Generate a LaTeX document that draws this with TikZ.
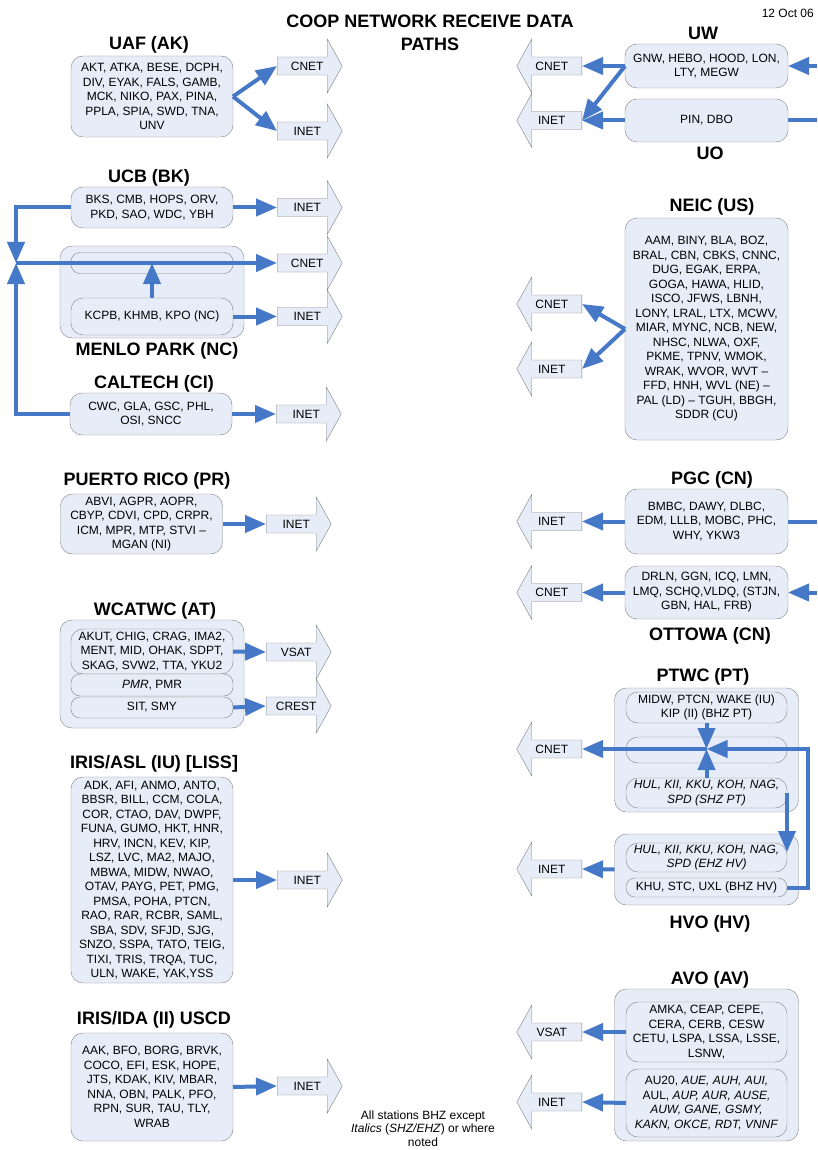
\documentclass[tikz,border=0pt]{standalone}
\usepackage{fontspec}
\setmainfont{Liberation Sans}
\usetikzlibrary{shapes.arrows,arrows.meta}
\definecolor{boxfill}{RGB}{231,237,248}
\definecolor{boxline}{RGB}{128,128,128}
\definecolor{linkblue}{RGB}{70,120,200}

\begin{document}
\begin{tikzpicture}[x=1pt,y=-1pt]
\tikzstyle{station}=[draw=boxline,fill=boxfill,rounded corners=12pt,inner sep=0pt,outer sep=0pt,minimum width=162pt,align=center,font=\fontsize{12}{14.5}\selectfont]
\tikzstyle{inner}=[station,rounded corners=9pt]
\tikzstyle{group}=[draw=boxline,fill=boxfill,rounded corners=12pt,inner sep=0pt,outer sep=0pt,minimum width=184pt]
\tikzstyle{title}=[font=\fontsize{18}{21}\selectfont\bfseries,text height=12.9pt,text depth=0pt,inner sep=0pt]
\tikzstyle{toright}=[single arrow,draw=boxline,fill=boxfill,minimum height=65pt,single arrow head extend=18pt,single arrow tip angle=122,inner xsep=2pt,inner ysep=4.5pt,text height=8.6pt,text depth=0pt,font=\fontsize{12}{14}\selectfont,anchor=tail]
\tikzstyle{toleft}=[toright,shape border rotate=180]
\tikzstyle{link}=[draw=linkblue,line width=4pt,-{Triangle[length=21pt,width=17pt]}]
\tikzstyle{wire}=[draw=linkblue,line width=4pt]

\useasboundingbox (0,0) rectangle (817,1150);

\node (head) [align=center,font=\fontsize{18}{23}\selectfont\bfseries,inner sep=0pt] at (430,32.5) {COOP NETWORK RECEIVE DATA\\PATHS};
\node (date) [anchor=base east,font=\fontsize{12}{14}\selectfont,inner sep=0pt] at (814,17.3) {12 Oct 06};
\node (note) [align=center,font=\fontsize{12}{13.5}\selectfont,inner sep=0pt] at (423,1128.5) {All stations BHZ except\\\textit{Italics} (\textit{SHZ/EHZ}) or where\\noted};

\node (tUAF) [title] at (149,43) {UAF (AK)};
\node (UAF) [station,minimum height=81pt] at (152,96.5) {AKT, ATKA, BESE, DCPH,\\DIV, EYAK, FALS, GAMB,\\MCK, NIKO, PAX, PINA,\\PPLA, SPIA, SWD, TNA,\\UNV};
\node (UAFcnet) [toright] at (277,66) {CNET};
\node (UAFinet) [toright] at (277,131) {INET};

\node (tUCB) [title] at (149,176) {UCB (BK)};
\node (UCB) [station,minimum height=41pt] at (152,207.5) {BKS, CMB, HOPS, ORV,\\PKD, SAO, WDC, YBH};
\node (UCBinet) [toright] at (277,207.5) {INET};

\node (MP) [group,minimum height=92pt] at (152,292) {};
\node (MPtop) [inner,minimum height=21pt] at (152,263) {};
\node (MPbot) [station,minimum height=37pt] at (152,316.5) {KCPB, KHMB, KPO (NC)};
\node (MPcnet) [toright] at (277,263) {CNET};
\node (MPinet) [toright] at (277,316.5) {INET};
\node (tMP) [title] at (157,349) {MENLO PARK (NC)};

\node (tCI) [title] at (154,382) {CALTECH (CI)};
\node (CI) [station,minimum height=42pt] at (151,414) {CWC, GLA, GSC, PHL,\\OSI, SNCC};
\node (CIinet) [toright] at (276,414) {INET};
\coordinate (J) at (16,263);

\node (tPR) [title] at (147,479) {PUERTO RICO (PR)};
\node (PR) [station,minimum height=60pt] at (141.5,524) {ABVI, AGPR, AOPR,\\CBYP, CDVI, CPD, CRPR,\\ICM, MPR, MTP, STVI –\\MGAN (NI)};
\node (PRinet) [toright] at (266,524) {INET};

\node (tAT) [title] at (155,609) {WCATWC (AT)};
\node (AT) [group,minimum height=108pt] at (152,674) {};
\node (ATa) [station,minimum height=45pt] at (152,651.5) {AKUT, CHIG, CRAG, IMA2,\\MENT, MID, OHAK, SDPT,\\SKAG, SVW2, TTA, YKU2};
\node (ATb) [inner,minimum height=22pt] at (152,685) {\textit{PMR}, PMR};
\node (ATc) [inner,minimum height=21pt] at (152,707.5) {SIT, SMY};
\node (ATvsat) [toright] at (266,652) {VSAT};
\node (ATcrest) [toright] at (266,706) {CREST};

\node (tASL) [title] at (154,762) {IRIS/ASL (IU) [LISS]};
\node (ASL) [station,minimum height=206pt] at (152,880) {ADK, AFI, ANMO, ANTO,\\BBSR, BILL, CCM, COLA,\\COR, CTAO, DAV, DWPF,\\FUNA, GUMO, HKT, HNR,\\HRV, INCN, KEV, KIP,\\LSZ, LVC, MA2, MAJO,\\MBWA, MIDW, NWAO,\\OTAV, PAYG, PET, PMG,\\PMSA, POHA, PTCN,\\RAO, RAR, RCBR, SAML,\\SBA, SDV, SFJD, SJG,\\SNZO, SSPA, TATO, TEIG,\\TIXI, TRIS, TRQA, TUC,\\ULN, WAKE, YAK,YSS};
\node (ASLinet) [toright] at (277,880) {INET};

\node (tIDA) [title] at (154,1018) {IRIS/IDA (II) USCD};
\node (IDA) [station,minimum height=108pt] at (152,1087) {AAK, BFO, BORG, BRVK,\\COCO, EFI, ESK, HOPE,\\JTS, KDAK, KIV, MBAR,\\NNA, OBN, PALK, PFO,\\RPN, SUR, TAU, TLY,\\WRAB};
\node (IDAinet) [toright] at (277,1086) {INET};

\node (tUW) [title] at (703,33) {UW};
\node (UW) [station,minimum width=163pt,minimum height=44pt] at (706.5,66) {GNW, HEBO, HOOD, LON,\\LTY, MEGW};
\node (UO) [station,minimum width=163pt,minimum height=43pt] at (706.5,120.5) {PIN, DBO};
\node (tUO) [title] at (710,153) {UO};
\node (UWcnet) [toleft] at (582,66) {CNET};
\node (UOinet) [toleft] at (582,120.5) {INET};
\coordinate (UWfeed) at (817,66);
\coordinate (UOfeed) at (817,120.5);

\node (tNEIC) [title] at (712,205) {NEIC (US)};
\node (NEIC) [station,minimum width=163pt,minimum height=222pt] at (706.5,329) {AAM, BINY, BLA, BOZ,\\BRAL, CBN, CBKS, CNNC,\\DUG, EGAK, ERPA,\\GOGA, HAWA, HLID,\\ISCO, JFWS, LBNH,\\LONY, LRAL, LTX, MCWV,\\MIAR, MYNC, NCB, NEW,\\NHSC, NLWA, OXF,\\PKME, TPNV, WMOK,\\WRAK, WVOR, WVT –\\FFD, HNH, WVL (NE) –\\PAL (LD) – TGUH, BBGH,\\SDDR (CU)};
\node (NEICcnet) [toleft] at (582,304) {CNET};
\node (NEICinet) [toleft] at (582,369) {INET};

\node (tPGC) [title] at (712,478) {PGC (CN)};
\node (PGC) [station,minimum width=163pt,minimum height=65pt] at (706.5,521.5) {BMBC, DAWY, DLBC,\\EDM, LLLB, MOBC, PHC,\\WHY, YKW3};
\node (PGCinet) [toleft] at (582,521.5) {INET};
\node (OTT) [station,minimum width=163pt,minimum height=53pt] at (706.5,592.5) {DRLN, GGN, ICQ, LMN,\\LMQ, SCHQ,VLDQ, (STJN,\\GBN, HAL, FRB)};
\node (OTTcnet) [toleft] at (582,592.5) {CNET};
\node (tOTT) [title] at (710,634) {OTTOWA (CN)};
\coordinate (PGCfeed) at (817,521.5);
\coordinate (OTTfeed) at (817,592.5);

\node (tPT) [title] at (703,675) {PTWC (PT)};
\node (PT) [group,minimum height=124pt] at (706.5,750) {};
\node (PTa) [station,minimum width=161pt,minimum height=31pt] at (706.5,707.5) {MIDW, PTCN, WAKE (IU)\\KIP (II) (BHZ PT)};
\node (PTb) [station,minimum width=161pt,minimum height=26pt] at (706.5,750) {};
\node (PTc) [station,minimum width=161pt,minimum height=30pt] at (706.5,793) {\itshape HUL, KII, KKU, KOH, NAG,\\\itshape SPD (SHZ PT)};
\node (PTcnet) [toleft] at (582,749) {CNET};
\coordinate (P) at (706.5,749);
\coordinate (PTr) at (808,749);

\node (HV) [group,minimum height=71pt] at (706.5,869.5) {};
\node (HVa) [station,minimum width=161pt,minimum height=29pt] at (706.5,857.5) {\itshape HUL, KII, KKU, KOH, NAG,\\\itshape SPD (EHZ HV)};
\node (HVb) [inner,minimum width=161pt,minimum height=19pt] at (706.5,887.5) {KHU, STC, UXL (BHZ HV)};
\node (HVinet) [toleft] at (582,869) {INET};
\node (tHV) [title] at (710,922) {HVO (HV)};
\coordinate (HVtop) at ([yshift=-9pt]HVa.north east);

\node (tAV) [title] at (710,978) {AVO (AV)};
\node (AV) [group,minimum height=152pt] at (706.5,1065) {};
\node (AVa) [station,minimum width=161pt,minimum height=60pt] at (706.5,1032) {AMKA, CEAP, CEPE,\\CERA, CERB, CESW\\CETU, LSPA, LSSA, LSSE,\\LSNW,};
\node (AVb) [station,minimum width=161pt,minimum height=68pt] at (706.5,1103) {AU20, \textit{AUE, AUH, AUI,}\\AUL, \textit{AUP, AUR, AUSE,}\\\textit{AUW, GANE, GSMY,}\\\textit{KAKN, OKCE, RDT, VNNF}};
\node (AVvsat) [toleft] at (582,1032) {VSAT};
\node (AVinet) [toleft] at (582,1102) {INET};

\draw [link] (UAF.east) -- (UAFcnet.tail);
\draw [link] (UAF.east) -- (UAFinet.tail);
\draw [link] (UCB.east) -- (UCBinet.tail);
\draw [link] (UCB.west) -| (J);
\draw [link] (CI.west) -| (J);
\draw [link] (J) -- (MPcnet.tail);
\draw [link] (MPbot.north) -- (MPbot.north |- J);
\draw [link] (MPbot.east) -- (MPinet.tail);
\draw [link] (CI.east) -- (CIinet.tail);
\draw [link] (PR.east) -- (PRinet.tail);
\draw [link] (ATa.east) -- (ATvsat.tail);
\draw [link] (ATc.east) -- (ATcrest.tail);
\draw [link] (ASL.east) -- (ASLinet.tail);
\draw [link] (IDA.east) -- (IDAinet.tail);

\draw [link] (UW.west) -- (UWcnet.tail);
\draw [link] (UW.west) -- (UOinet.tail);
\draw [link] (UO.west) -- (UOinet.tail);
\draw [link] (UWfeed) -- (UW.east);
\draw [wire] (UO.east) -- (UOfeed);
\draw [link] (NEIC.west) -- (NEICcnet.tail);
\draw [link] (NEIC.west) -- (NEICinet.tail);
\draw [link] (PGC.west) -- (PGCinet.tail);
\draw [wire] (PGC.east) -- (PGCfeed);
\draw [link] (OTT.west) -- (OTTcnet.tail);
\draw [link] (OTTfeed) -- (OTT.east);
\draw [link] (PTa.south) -- (P);
\draw [link] (PTc.north) -- (P);
\draw [link] (HVb.east) -| (PTr) -- (P);
\draw [link] (P) -- (PTcnet.tail);
\draw [link] (PTc.east) -- (HVtop);
\draw [link] (HV.west) -- (HVinet.tail);
\draw [link] (AVa.west) -- (AVvsat.tail);
\draw [link] (AVb.west) -- (AVinet.tail);
\end{tikzpicture}
\end{document}
